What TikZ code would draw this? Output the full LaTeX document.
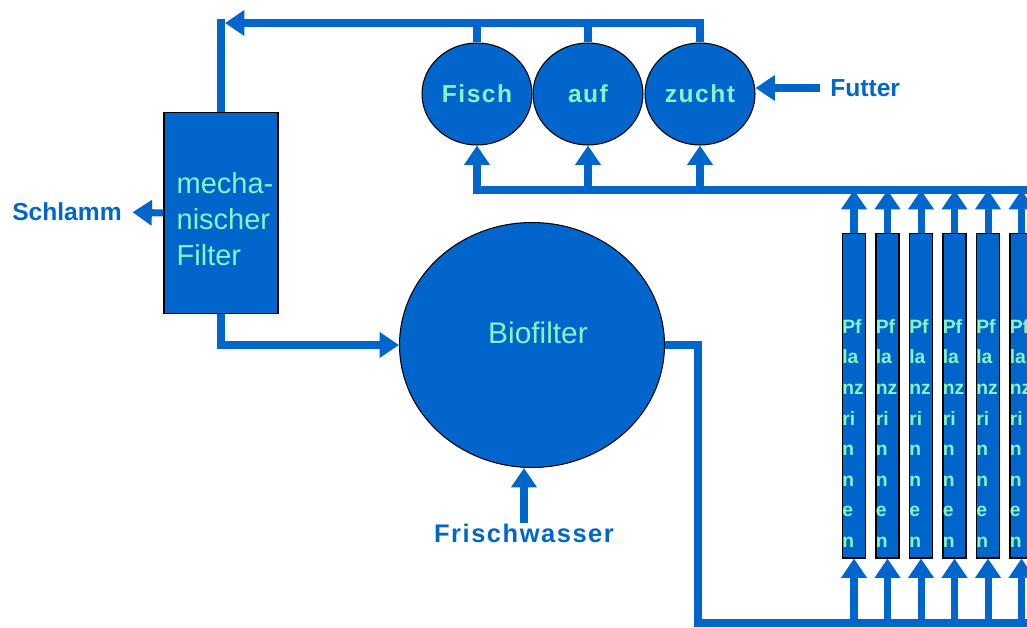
\documentclass[tikz,border=0pt]{standalone}
\usepackage{fontspec}
\setmainfont{Liberation Sans}
\usetikzlibrary{arrows.meta,shapes.geometric}

\definecolor{pipeblue}{HTML}{0066CC}
\definecolor{mint}{HTML}{88F2C4}

\begin{document}
\begin{tikzpicture}[
  x=0.02cm, y=-0.02cm,
  tank/.style={ellipse, draw=black, line width=0.6pt, fill=pipeblue,
               inner sep=0pt, text=mint,
               font=\fontsize{14}{16}\selectfont\bfseries\addfontfeature{LetterSpace=6}},
  unit/.style={rectangle, draw=black, line width=0.6pt, fill=pipeblue, inner sep=0pt},
  coltext/.style={text=mint, align=left, inner sep=0pt,
                  font=\fontsize{11}{17.4}\selectfont\bfseries},
  tag/.style={text=pipeblue, inner sep=0pt,
              font=\fontsize{14}{16}\selectfont\bfseries},
  pipe/.style={draw=pipeblue, line width=4pt},
  flow/.style={pipe, -{Triangle[length=11pt, width=14pt]}}
]
\useasboundingbox (0,0) rectangle (1027,628);
\clip (0,0) rectangle (1027,628);

% Fish tanks
\node[tank, minimum width=2.2cm, minimum height=2.04cm] at (477,94) (fisch) {Fisch};
\node[tank, minimum width=2.2cm, minimum height=2.04cm] at (588,94) (auf)   {auf};
\node[tank, minimum width=2.2cm, minimum height=2.04cm] at (700,94) (zucht) {zucht};

% Mechanical filter and biofilter
\node[unit, minimum width=2.28cm, minimum height=4.02cm] at (221,213) (mech) {};
\node[text=mint, align=left, inner sep=0pt,
      font=\fontsize{16.5}{20.5}\selectfont] at (225,219) (mechtext) {mecha-\\nischer\\Filter};
\node[tank, minimum width=5.3cm, minimum height=4.9cm] at (532,345) (bio) {};
\node[text=mint, font=\fontsize{17}{20}\selectfont] at (538,333) (biotext) {Biofilter};

% Outside labels
\node[tag, anchor=east] at (122,212) (schlamm) {Schlamm};
\node[tag, anchor=west] at (830,88) (futter) {Futter};
\node[tag, font=\fontsize{14.5}{16}\selectfont\bfseries\addfontfeature{LetterSpace=6}]
      at (524,533) (frisch) {Frischwasser};

% Helper points for the long pipes
\coordinate (rueck)   at (225,23);
\coordinate (sammel)  at (1040,190);
\coordinate (zulauf)  at (1040,623);
\coordinate (knick)   at (698,623);
\coordinate (textrow) at (0,319);

% Plant channels
\foreach \i in {1,...,6} {
  \node[unit, minimum width=0.46cm, minimum height=6.5cm]
        at ({854+33.5*(\i-1)},395.5) (rinne\i) {};
  \node[coltext, anchor=north west] at (rinne\i.west |- textrow) (rtext\i)
        {Pf\\la\\nz\\ri\\n\\n\\e\\n};
  \draw[flow] (rinne\i.north) -- (rinne\i.north |- sammel);
  \draw[flow] (rinne\i.south |- zulauf) -- (rinne\i.south);
}

% Return line over the tanks back to the filter
\draw[flow] (zucht.north) |- (rueck);
\draw[pipe] (rueck) -| (mech.north);
\draw[pipe] (fisch.north) -- (fisch.north |- rueck);
\draw[pipe] (auf.north)   -- (auf.north |- rueck);

% Filter to biofilter, biofilter to channels
\draw[flow] (mech.south) |- (bio.west);
\draw[pipe] (bio.east) -| (knick) -- (zulauf);

% Channels back to the tanks
\draw[flow] (sammel) -| (fisch.south);
\draw[flow] (auf.south |- sammel)   -- (auf.south);
\draw[flow] (zucht.south |- sammel) -- (zucht.south);

% Inputs and outputs
\draw[flow, shorten >=6pt] (mech.west) -- (schlamm.east);
\draw[flow, shorten <=5.5pt] (futter.west) -- (zucht.east |- futter.west);
\draw[flow] (frisch.north) -- (frisch.north |- bio.south);

\end{tikzpicture}
\end{document}
